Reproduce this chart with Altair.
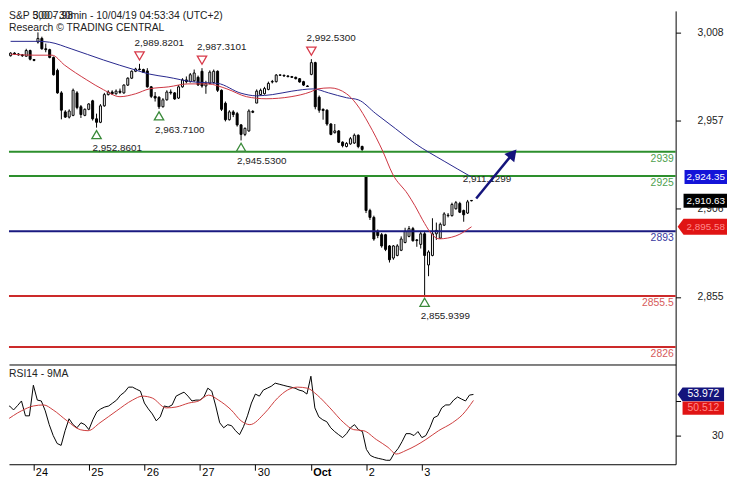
import altair as alt
import pandas as pd

# ---------------- data ----------------
FIRST_BAR = -7  # bar index of first visible 30-min candle (Sep 23); each day = 14 bars
opens = [
    2994.5, 2996.0, 2995.5, 2995.0, 2994.2, 2997.5, 2992.3,
    3002.4, 3004.5, 2998.5, 2998.0, 2993.5, 2986.0, 2973.0, 2962.0, 2959.0, 2960.0, 2973.0, 2965.0, 2960.0, 2963.5,
    2968.4, 2958.0, 2956.0, 2965.5, 2972.0, 2973.5, 2972.5, 2974.0, 2973.0, 2977.5, 2981.5, 2985.5, 2986.8, 2986.5,
    2985.7, 2976.5, 2971.0, 2970.5, 2965.0, 2969.0, 2973.5, 2973.0, 2970.0, 2976.5, 2980.5, 2979.5, 2980.0, 2982.0,
    2985.5, 2977.0, 2978.5, 2979.0, 2985.5, 2974.5, 2967.0, 2957.5, 2962.0, 2961.0, 2954.5, 2949.0, 2951.0, 2962.3,
    2967.1, 2972.0, 2972.5, 2975.0, 2979.3, 2979.5, 2983.4, 2983.2, 2982.8, 2982.4, 2982.0, 2981.2, 2979.5, 2977.0,
    2983.7, 2990.5, 2970.5, 2963.5, 2963.0, 2955.0, 2950.0, 2951.0, 2944.5, 2942.0, 2943.5, 2944.0, 2948.5, 2942.0,
    2924.8, 2905.0, 2901.0, 2893.0, 2891.0, 2891.0, 2884.5, 2877.5, 2879.0, 2882.0, 2886.5, 2890.0, 2894.5, 2888.0,
    2885.4, 2891.5, 2873.5, 2879.0, 2891.5, 2889.0, 2896.5, 2902.0, 2902.0, 2906.0, 2909.0, 2905.0, 2903.5, 2910.8,
]
highs = [
    2996.5, 2996.5, 2996.0, 2995.5, 2998.5, 2998.0, 2992.6,
    3008.0, 3005.5, 3001.5, 2998.5, 2994.0, 2987.0, 2974.0, 2963.0, 2963.5, 2975.5, 2974.0, 2966.0, 2964.0, 2967.0,
    2969.0, 2961.0, 2966.5, 2973.0, 2974.5, 2974.5, 2975.0, 2975.5, 2978.0, 2982.0, 2986.0, 2987.5, 2989.8, 2987.0,
    2987.3, 2977.0, 2973.5, 2971.0, 2970.0, 2974.5, 2975.0, 2973.5, 2977.5, 2981.5, 2982.5, 2984.5, 2986.5, 2983.0,
    2987.3, 2980.0, 2986.0, 2986.5, 2986.0, 2975.0, 2968.0, 2963.0, 2963.0, 2962.0, 2955.0, 2953.0, 2963.5, 2963.0,
    2975.0, 2975.5, 2976.5, 2979.5, 2980.5, 2983.9, 2983.7, 2983.5, 2983.2, 2982.8, 2982.4, 2981.6, 2980.0, 2977.4,
    2992.5, 2991.0, 2971.5, 2964.0, 2963.5, 2955.5, 2955.0, 2951.5, 2945.0, 2944.5, 2947.5, 2949.5, 2949.0, 2942.5,
    2924.8, 2906.0, 2902.0, 2894.0, 2892.0, 2891.5, 2885.0, 2885.0, 2885.5, 2890.0, 2895.0, 2896.0, 2895.5, 2888.5,
    2893.0, 2892.5, 2882.0, 2900.5, 2898.0, 2898.0, 2904.0, 2903.5, 2909.5, 2910.5, 2910.0, 2905.5, 2911.1, 2911.0,
]
lows = [
    2994.0, 2995.0, 2994.5, 2993.8, 2994.0, 2991.8, 2991.3,
    3001.5, 2998.0, 2996.5, 2993.0, 2983.0, 2972.5, 2957.7, 2958.5, 2958.2, 2959.5, 2963.5, 2958.5, 2959.5, 2963.0,
    2957.0, 2952.9, 2955.5, 2965.0, 2971.5, 2971.8, 2972.0, 2972.5, 2972.5, 2977.0, 2981.0, 2985.0, 2986.0, 2984.5,
    2976.0, 2970.0, 2968.0, 2963.7, 2964.5, 2968.5, 2972.0, 2969.0, 2969.5, 2976.0, 2978.5, 2979.0, 2979.5, 2977.0,
    2976.0, 2972.5, 2978.0, 2978.5, 2973.5, 2962.5, 2956.5, 2957.0, 2959.0, 2953.5, 2945.5, 2948.0, 2950.5, 2961.3,
    2967.1, 2971.5, 2972.0, 2974.5, 2978.5, 2979.0, 2982.8, 2982.3, 2982.0, 2981.6, 2980.8, 2978.9, 2977.0, 2976.4,
    2983.2, 2963.5, 2961.5, 2957.5, 2954.0, 2948.5, 2949.5, 2944.0, 2941.5, 2941.5, 2943.0, 2943.5, 2941.0, 2938.7,
    2903.5, 2899.5, 2887.5, 2889.0, 2883.5, 2881.5, 2874.9, 2876.5, 2878.5, 2881.5, 2886.0, 2889.5, 2887.0, 2884.0,
    2883.0, 2855.9, 2867.0, 2878.5, 2888.0, 2888.5, 2896.0, 2901.0, 2901.5, 2905.5, 2903.5, 2898.5, 2903.0, 2910.3,
]
closes = [
    2996.0, 2995.5, 2995.0, 2994.5, 2997.5, 2992.5, 2991.8,
    3004.5, 2998.5, 2998.0, 2993.5, 2983.5, 2973.0, 2963.0, 2959.0, 2962.5, 2974.5, 2964.5, 2960.5, 2963.5, 2966.6,
    2958.0, 2956.0, 2965.5, 2972.0, 2973.5, 2972.5, 2974.0, 2973.3, 2977.5, 2981.5, 2985.5, 2986.8, 2986.5, 2984.9,
    2976.5, 2971.0, 2970.0, 2965.0, 2969.0, 2973.5, 2973.0, 2969.5, 2976.5, 2980.5, 2979.5, 2983.5, 2984.5, 2977.6,
    2977.0, 2978.5, 2985.0, 2985.5, 2974.5, 2963.5, 2957.5, 2962.0, 2960.5, 2954.5, 2949.0, 2952.5, 2962.5, 2961.8,
    2974.0, 2974.5, 2975.5, 2978.5, 2979.6, 2983.3, 2983.2, 2982.8, 2982.4, 2982.0, 2981.2, 2979.3, 2977.5, 2976.7,
    2990.5, 2965.0, 2963.0, 2962.8, 2955.0, 2949.0, 2951.0, 2944.5, 2942.5, 2943.8, 2946.5, 2948.5, 2942.0, 2940.3,
    2905.0, 2901.0, 2888.5, 2890.5, 2884.5, 2882.5, 2876.5, 2884.5, 2884.5, 2888.5, 2893.0, 2894.5, 2887.5, 2887.6,
    2891.5, 2879.0, 2881.0, 2891.5, 2893.5, 2897.0, 2903.0, 2902.3, 2908.5, 2909.5, 2904.0, 2902.5, 2910.0, 2910.6,
]
rsi14 = [
    46.2, 47.3, 45.0, 47.5, 50.2, 41.6, 41.6,
    59.3, 50.7, 50.2, 44.5, 36.5, 30.2, 25.6, 24.5, 33.0, 39.9, 36.5, 34.7, 37.6, 36.5,
    33.6, 39.3, 43.9, 45.6, 46.7, 47.3, 49.0, 50.7, 53.6, 55.3, 58.2, 58.2, 57.0, 55.9,
    49.0, 45.6, 42.7, 38.7, 41.0, 47.3, 46.7, 47.9, 53.0, 54.2, 55.3, 53.0, 50.2, 50.7,
    50.7, 52.5, 57.6, 55.9, 47.3, 37.6, 34.7, 36.5, 35.9, 33.0, 30.7, 35.3, 41.6, 49.0,
    54.2, 53.0, 56.5, 57.6, 58.7, 60.5, 59.9, 59.3, 58.7, 58.2, 57.6, 56.5, 55.9, 54.2,
    64.5, 46.2, 41.0, 39.3, 38.2, 34.7, 32.5, 30.7, 29.0, 31.3, 34.7, 36.5, 33.6, 32.5,
    22.2, 18.7, 17.6, 17.0, 16.5, 15.9, 15.9, 19.9, 22.7, 26.7, 31.3, 31.3, 30.2, 32.5,
    29.0, 30.2, 34.7, 40.5, 41.6, 46.2, 47.9, 47.9, 50.7, 52.5, 51.3, 50.2, 53.6, 53.972,
]

fast_ma_bar = [-7, -1, 3.6, 6.8, 12.5, 16.8, 21, 25, 28.5, 33.5, 38.4, 43.4, 48.4, 53.4, 58.4,
               64.8, 69.8, 71.6, 74.8, 79, 81.5, 84.8, 88.3, 90.8, 94.7, 96.5, 99, 100.7, 102.7, 107, 111]
fast_ma = [2995.4, 2994.8, 2994.8, 2989.1, 2980.5, 2974.8, 2970.8, 2972.5, 2975.3, 2976.5, 2978.2, 2978.2,
           2975.3, 2970.8, 2969.6, 2970.8, 2973.6, 2975.3, 2975.9, 2972.5, 2966.7, 2954.7, 2939.2, 2926.1,
           2914.4, 2907.8, 2897.5, 2891.6, 2888.6, 2890.3, 2895.58]
slow_ma_bar = [-7, 0, 3, 8.5, 16.8, 25, 28.5, 33, 40, 46, 52, 56, 60, 65, 70.5, 74.4, 79, 82, 86.5,
               91.5, 96.5, 104, 111]
slow_ma = [3002.8, 3002.8, 3002.3, 2998.5, 2992.0, 2986.2, 2983.9, 2982.2, 2979.3, 2978.5, 2972.8, 2971.3,
           2972.0, 2974.0, 2975.3, 2973.0, 2970.2, 2969.0, 2961.0, 2952.4, 2943.8, 2933.5, 2924.35]
rsi_ma_bar = [-7, -3, 0, 2.6, 5, 8.5, 11.8, 13.8, 16.8, 21, 25, 27.5, 30, 33.5, 36, 39.2, 41.7, 44.2, 46.7,
              49.9, 52.4, 54.6, 58.4, 61.6, 64.1, 66.6, 69.1, 71.6, 74.8, 78.3, 80.8, 83.3, 86.5, 89.5, 91.5,
              94, 96.5, 99, 102.2, 105.7, 108.2, 111]
rsi_ma = [38.7, 44.5, 47.3, 47.9, 45.0, 38.7, 33.6, 33.0, 37.6, 44.5, 50.7, 53.0, 51.9, 46.2, 46.7, 49.0,
          50.2, 53.6, 50.7, 45.0, 38.7, 36.5, 43.3, 51.9, 56.5, 58.2, 57.6, 53.6, 46.2, 37.6, 33.6, 33.0,
          27.9, 23.3, 19.5, 21.6, 24.4, 27.9, 33.0, 37.6, 42.2, 50.5]

day_start_bars = [0, 14, 28, 42, 56, 70, 84, 98]
day_labels = ["24", "25", "26", "27", "30", "Oct", "2", "3"]
price_ticks = [2855, 2906, 2957, 3008]
rsi_ticks = [30, 50]

level_values = [2939, 2925, 2893, 2855.5, 2826]
level_names = ["2939", "2925", "2893", "2855.5", "2826"]
level_line_colors = ["#2d8f2d", "#2d8f2d", "#1a1a80", "#cc2a2a", "#cc2a2a"]
level_text_colors = ["#4f9f4f", "#4f9f4f", "#3a3aa0", "#d65a5a", "#d65a5a"]

peak_bars = [26, 42, 70, 110]
peak_values = [2989.8201, 2987.3101, 2992.5300, 2911.1299]
peak_labels = ["2,989.8201", "2,987.3101", "2,992.5300", "2,911.1299"]
peak_marked = [True, True, True, False]
trough_bars = [15, 31, 52, 99]
trough_values = [2952.8601, 2963.7100, 2945.5300, 2855.9399]
trough_labels = ["2,952.8601", "2,963.7100", "2,945.5300", "2,855.9399"]

arrow_bars = [112.2, 121.0]
arrow_values = [2911.9, 2936.3]
arrow_head_bar = [121.6]
arrow_head_value = [2937.8]

box_values = [2924.35, 2910.63, 2895.58]
box_texts = ["2,924.35", "2,910.63", "2,895.58"]
rsi_box_values = [53.972, 50.5]
rsi_box_texts = ["53.972", "50.512"]

title_lines = ["S&P 500 - 30min - 10/04/19 04:53:34 (UTC+2)", "Research \u00a9 TRADING CENTRAL"]
title_overlap = "3,007.98"
rsi_title = "RSI14 - 9MA"

# ---------------- frames ----------------
n = len(opens)
bars = list(range(FIRST_BAR, FIRST_BAR + n))
candles = pd.DataFrame({"k": bars, "o": opens, "h": highs, "l": lows, "c": closes})
rsi_df = pd.DataFrame({"k": bars, "v": rsi14})
fast_df = pd.DataFrame({"k": fast_ma_bar, "v": fast_ma})
slow_df = pd.DataFrame({"k": slow_ma_bar, "v": slow_ma})
rsima_df = pd.DataFrame({"k": rsi_ma_bar, "v": rsi_ma})
levels_df = pd.DataFrame({"v": level_values, "lab": level_names,
                          "lc": level_line_colors, "tc": level_text_colors})
peaks_df = pd.DataFrame({"k": peak_bars, "v": peak_values, "lab": peak_labels, "m": peak_marked})
troughs_df = pd.DataFrame({"k": trough_bars, "v": trough_values, "lab": trough_labels})
arrow_df = pd.DataFrame({"k": arrow_bars, "v": arrow_values})
head_df = pd.DataFrame({"k": arrow_head_bar, "v": arrow_head_value})

FONT = "Liberation Sans"
W, H_MAIN, H_RSI = 675, 358, 101

xs = alt.Scale(domain=[-6.15, 162.0], nice=False, zero=False)
ps = alt.Scale(domain=[2815.94, 3020.4], nice=False, zero=False)
rs = alt.Scale(domain=[13.6, 71.3], nice=False, zero=False)

ax_x_main = alt.Axis(domain=True, domainColor="black", domainWidth=1, ticks=False,
                     labels=False, grid=False, title=None)
oct_bar = day_start_bars[day_labels.index("Oct")]
label_expr = ("[" + ",".join("'%s'" % s for s in day_labels) + "][indexof(["
              + ",".join(str(b) for b in day_start_bars) + "], datum.value)]")
ax_x_rsi = alt.Axis(values=day_start_bars, labelExpr=label_expr, domainColor="black",
                    tickColor="black", tickSize=6, labelPadding=-4, labelAlign="left",
                    labelBaseline="top", labelOffset=2, labelFont=FONT, labelFontSize=11,
                    labelColor="black", labelFlush=False, labelOverlap=False, grid=False,
                    title=None,
                    labelFontWeight={"condition": {"test": "datum.value == %d" % oct_bar,
                                                   "value": "bold"}, "value": "normal"})
ax_p = alt.Axis(orient="right", values=price_ticks, format=",.0f", domainColor="black",
                tickColor="black", tickSize=5, labelAlign="right", labelPadding=43,
                labelFont=FONT, labelFontSize=10.5, labelColor="#222222", grid=False,
                title=None, labelFlush=False, labelOverlap=False)
ax_r = alt.Axis(orient="right", values=rsi_ticks, labelExpr="datum.value == 30 ? '30' : ''",
                domainColor="black", tickColor="black", tickSize=5, labelAlign="right",
                labelPadding=43, labelFont=FONT, labelFontSize=10.5, labelColor="#222222",
                grid=False, title=None, labelFlush=False, labelOverlap=False)


def xm(field="k"):
    return alt.X(field + ":Q", scale=xs, axis=ax_x_main)


def xr(field="k"):
    return alt.X(field + ":Q", scale=xs, axis=ax_x_rsi)


def yp(field):
    return alt.Y(field + ":Q", scale=ps, axis=ax_p)


def yr(field):
    return alt.Y(field + ":Q", scale=rs, axis=ax_r)


# ---------------- main panel ----------------
wicks = alt.Chart(candles).mark_rule(color="black", strokeWidth=1, clip=True).encode(
    x=xm(), y=yp("l"), y2=alt.Y2("h"))
down = alt.Chart(candles).transform_filter("datum.c < datum.o").mark_bar(
    size=2, fill="black", stroke="black", strokeWidth=1, clip=True).encode(
    x=xm(), y=yp("o"), y2=alt.Y2("c"))
up = alt.Chart(candles).transform_filter("datum.c >= datum.o").mark_bar(
    size=2, fill="white", stroke="black", strokeWidth=1, clip=True).encode(
    x=xm(), y=yp("o"), y2=alt.Y2("c"))

level_rules = alt.Chart(levels_df).mark_rule(strokeWidth=2).encode(
    y=yp("v"), color=alt.Color("lc:N", scale=None))
level_text = alt.Chart(levels_df).mark_text(align="right", baseline="top", dy=2, font=FONT,
                                            fontSize=10.5).encode(
    x=alt.value(673), y=yp("v"), text="lab:N", color=alt.Color("tc:N", scale=None))

slow_line = alt.Chart(slow_df).mark_line(color="#26268c", strokeWidth=1, interpolate="monotone",
                                         clip=True).encode(x=xm(), y=yp("v"))
fast_line = alt.Chart(fast_df).mark_line(color="#cc3440", strokeWidth=1, interpolate="monotone",
                                         clip=True).encode(x=xm(), y=yp("v"))

peak_tri = alt.Chart(peaks_df).transform_filter("datum.m").mark_point(
    shape="triangle-down", filled=False, size=90, strokeWidth=1.3, color="#d83a4a", opacity=1,
    yOffset=-8).encode(x=xm(), y=yp("v"))
peak_txt = alt.Chart(peaks_df).mark_text(align="left", baseline="alphabetic", dx=-5, dy=-18,
                                         font=FONT, fontSize=10, color="#222222").encode(
    x=xm(), y=yp("v"), text="lab:N")
trough_tri = alt.Chart(troughs_df).mark_point(
    shape="triangle-up", filled=False, size=90, strokeWidth=1.3, color="#3a8a3a", opacity=1,
    yOffset=7).encode(x=xm(), y=yp("v"))
trough_txt = alt.Chart(troughs_df).mark_text(align="left", baseline="alphabetic", dx=-4, dy=24,
                                             font=FONT, fontSize=10, color="#222222").encode(
    x=xm(), y=yp("v"), text="lab:N")

arrow = alt.Chart(arrow_df).mark_line(color="#14147c", strokeWidth=2.5).encode(x=xm(), y=yp("v"))
arrow_head = alt.Chart(head_df).mark_point(shape="triangle-up", filled=True, size=170, angle=40,
                                           color="#14147c", opacity=1).encode(x=xm(), y=yp("v"))

box_df = pd.DataFrame({"v": box_values, "t": box_texts,
                       "shape": ["M9,-7H52V7H9Z", "M8,-7H52V7H8Z", "M2,0L8,-8H52V8H8Z"],
                       "fill": ["#1414d8", "#000000", "#e01414"],
                       "tcol": ["white", "white", "#ff8a8a"]})
boxes = alt.Chart(box_df).mark_point(filled=True, size=4, opacity=1, strokeWidth=0).encode(
    x=alt.value(W), y=yp("v"), shape=alt.Shape("shape:N", scale=None),
    color=alt.Color("fill:N", scale=None))
box_txt = alt.Chart(box_df).mark_text(align="left", baseline="middle", font=FONT, fontSize=10,
                                      limit=42, ellipsis="").encode(
    x=alt.value(W + 11), y=yp("v"), text="t:N", color=alt.Color("tcol:N", scale=None))

title_df = pd.DataFrame({"t": title_lines})
title1 = alt.Chart(title_df.iloc[[0]]).mark_text(align="left", baseline="top", font=FONT,
                                                 fontSize=10.5, color="#222222").encode(
    x=alt.value(0), y=alt.value(0), text="t:N")
title_ov = alt.Chart(pd.DataFrame({"t": [title_overlap]})).mark_text(
    align="left", baseline="top", font=FONT, fontSize=10.5, color="#222222").encode(
    x=alt.value(24), y=alt.value(0), text="t:N")
title2 = alt.Chart(title_df.iloc[[1]]).mark_text(align="left", baseline="top", font=FONT,
                                                 fontSize=10.5, color="#222222").encode(
    x=alt.value(0), y=alt.value(12), text="t:N")

main = alt.layer(wicks, down, up, level_rules, level_text, slow_line, fast_line,
                 peak_tri, peak_txt, trough_tri, trough_txt, arrow, arrow_head,
                 boxes, box_txt, title1, title_ov, title2).properties(width=W, height=H_MAIN)

# ---------------- RSI panel ----------------
rsi_line = alt.Chart(rsi_df).mark_line(color="black", strokeWidth=1, clip=True).encode(
    x=xr(), y=yr("v"))
rsi_ma_line = alt.Chart(rsima_df).mark_line(color="#cc3c3c", strokeWidth=1, interpolate="monotone",
                                            clip=True).encode(x=xr(), y=yr("v"))
rbox_df = pd.DataFrame({"v": rsi_box_values, "t": rsi_box_texts,
                        "shape": ["M2,0L7,-7H49V7H7Z", "M7,1H49V14.5H7Z"],
                        "fill": ["#14147c", "#e01414"],
                        "tcol": ["white", "#ff8a8a"]})
rboxes = alt.Chart(rbox_df).mark_point(filled=True, size=4, opacity=1, strokeWidth=0).encode(
    x=alt.value(W), y=yr("v"), shape=alt.Shape("shape:N", scale=None),
    color=alt.Color("fill:N", scale=None))
rbox_txt1 = alt.Chart(rbox_df.iloc[[0]]).mark_text(align="left", baseline="middle", font=FONT,
                                                   fontSize=10.5, limit=42, ellipsis="").encode(
    x=alt.value(W + 12), y=yr("v"), text="t:N", color=alt.Color("tcol:N", scale=None))
rbox_txt2 = alt.Chart(rbox_df.iloc[[1]]).mark_text(align="left", baseline="middle", font=FONT,
                                                   fontSize=10.5, limit=42, ellipsis="",
                                                   dy=8).encode(
    x=alt.value(W + 12), y=yr("v"), text="t:N", color=alt.Color("tcol:N", scale=None))
rsi_lab = alt.Chart(pd.DataFrame({"t": [rsi_title]})).mark_text(
    align="left", baseline="top", font=FONT, fontSize=10.5, color="#222222").encode(
    x=alt.value(0), y=alt.value(5), text="t:N")

rsi_panel = alt.layer(rsi_line, rsi_ma_line, rboxes, rbox_txt1, rbox_txt2, rsi_lab).properties(
    width=W, height=H_RSI)

chart = alt.vconcat(main, rsi_panel, spacing=0, bounds="flush").properties(
    padding=0, background="white").configure_view(stroke=None)

chart.save("out.html", embed_options={"renderer": "svg", "actions": False})
